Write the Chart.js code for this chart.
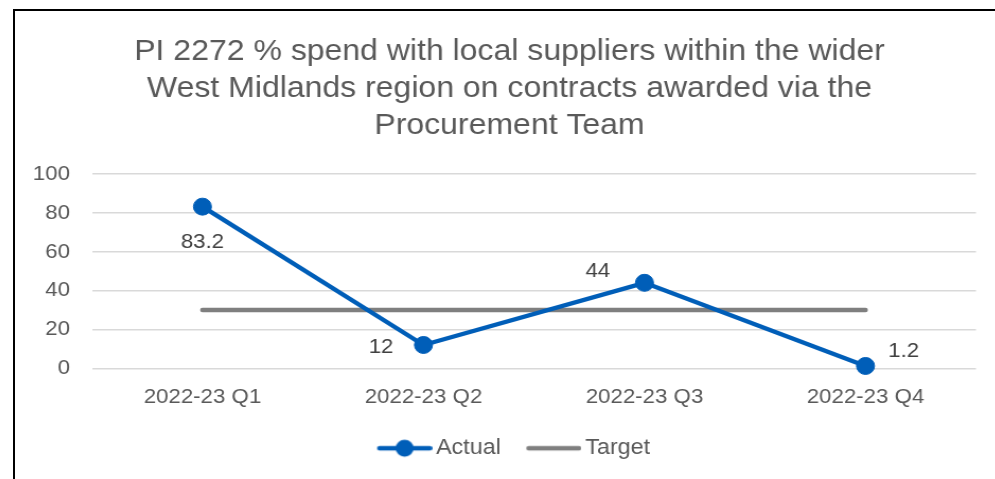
<!DOCTYPE html>
<html><head><meta charset="utf-8">
<script src="https://cdn.jsdelivr.net/npm/chart.js@4/dist/chart.umd.min.js"></script>
<style>
html,body{margin:0;padding:0;background:#fff;overflow:hidden;width:995px;height:479px;}
#frame{position:absolute;left:13px;top:9px;width:1010px;height:490px;border-left:2px solid #000;border-top:2px solid #000;background:#fff;}
#c{position:absolute;left:0;top:0;transform:scaleX(1.06);transform-origin:0 0;}
</style></head><body>
<div id="frame"><canvas id="c" width="933" height="468"></canvas></div>
<script>
const titleLines = [
  'PI 2272 % spend with local suppliers within the wider',
  'West Midlands region on contracts awarded via the',
  'Procurement Team'
];
const categories = ['2022-23 Q1', '2022-23 Q2', '2022-23 Q3', '2022-23 Q4'];
const actualValues = [83.2, 12, 44, 1.2];
const targetValues = [30, 30, 30, 30];
const seriesNames = ['Actual', 'Target'];
const yTickMin = 0, yTickMax = 100, yTickStep = 20;

const BLUE = '#005EB8';
const GREY = '#7F7F7F';
const TXT = '#595959';
const FONT = '"Liberation Sans", Arial, Helvetica, sans-serif';
const TICK_SIZE = 21;

Chart.defaults.font.family = FONT;

// width of the widest y label, used to right-align mirrored labels left of the plot
const mctx = document.createElement('canvas').getContext('2d');
mctx.font = TICK_SIZE + 'px ' + FONT;
const widestY = Math.max(...[0, 20, 40, 60, 80, 100].map(v => mctx.measureText(String(v)).width));

function legendImage(withMarker, color, lw) {
  const cv = document.createElement('canvas');
  cv.width = 67; cv.height = 20;
  const g = cv.getContext('2d');
  g.strokeStyle = color; g.lineWidth = lw; g.lineCap = 'round';
  g.beginPath(); g.moveTo(15 + lw / 2, 10); g.lineTo(67 - lw / 2, 10); g.stroke();
  if (withMarker) {
    g.fillStyle = color;
    g.beginPath(); g.arc(41, 10, 8.5, 0, Math.PI * 2); g.fill();
  }
  return cv;
}
const legendImgs = [legendImage(true, BLUE, 4.4), legendImage(false, GREY, 4.5)];

const labelOffsets = [[0, 36], [-40, 2.5], [-44, -11.5], [36, -15]];
const dataLabelPlugin = {
  id: 'dataLabels',
  afterDatasetsDraw(chart) {
    const meta = chart.getDatasetMeta(0);
    const ctx = chart.ctx;
    ctx.save();
    ctx.font = TICK_SIZE + 'px ' + FONT;
    ctx.fillStyle = '#404040';
    ctx.textAlign = 'center';
    ctx.textBaseline = 'middle';
    meta.data.forEach((pt, i) => {
      const o = labelOffsets[i];
      ctx.fillText(String(actualValues[i]), pt.x + o[0], pt.y + o[1]);
    });
    ctx.restore();
  }
};

new Chart(document.getElementById('c'), {
  type: 'line',
  data: {
    labels: categories,
    datasets: [
      {
        label: seriesNames[0],
        data: actualValues,
        borderColor: BLUE,
        backgroundColor: BLUE,
        borderWidth: 4.4,
        pointRadius: 8.5,
        pointBorderWidth: 1,
        pointBackgroundColor: BLUE,
        pointBorderColor: BLUE,
        borderCapStyle: 'round',
        borderJoinStyle: 'round',
        tension: 0,
        clip: false,
        order: 1
      },
      {
        label: seriesNames[1],
        data: targetValues,
        borderColor: GREY,
        backgroundColor: GREY,
        borderWidth: 4.5,
        pointRadius: 0,
        borderCapStyle: 'round',
        tension: 0,
        clip: false,
        order: 2
      }
    ]
  },
  options: {
    responsive: false,
    animation: false,
    devicePixelRatio: 1,
    layout: { padding: { left: 26.4, right: 26.4, top: 0, bottom: 9.8 } },
    plugins: {
      title: {
        display: true,
        text: titleLines,
        color: TXT,
        font: { size: 30.2, weight: 'normal', lineHeight: 37 / 30.2 },
        padding: { top: 22, bottom: 30 }
      },
      legend: {
        display: true,
        position: 'bottom',
        labels: {
          usePointStyle: true,
          pointStyleWidth: 52.2,
          boxHeight: 20,
          padding: 16.4,
          color: TXT,
          font: { size: 22 },
          generateLabels(chart) {
            const items = Chart.defaults.plugins.legend.labels.generateLabels(chart);
            items.forEach((it, i) => { it.pointStyle = legendImgs[i]; });
            return items;
          }
        }
      },
      tooltip: { enabled: false }
    },
    scales: {
      x: {
        offset: true,
        grid: { display: false, drawTicks: false },
        border: { display: false },
        ticks: { color: TXT, font: { size: TICK_SIZE }, padding: 16.5, maxRotation: 0 },
        afterFit(scale) { scale.height = 52.5; }
      },
      y: {
        min: yTickMin,
        max: yTickMax,
        grid: { color: '#D9D9D9', lineWidth: 1.5, drawTicks: false },
        border: { display: false },
        ticks: {
          stepSize: yTickStep, color: TXT, font: { size: TICK_SIZE },
          mirror: true, crossAlign: 'far', padding: -(20.7 + widestY)
        },
        afterFit(scale) { scale.width = 46.2; }
      }
    }
  },
  plugins: [dataLabelPlugin]
});
</script>
</body></html>
